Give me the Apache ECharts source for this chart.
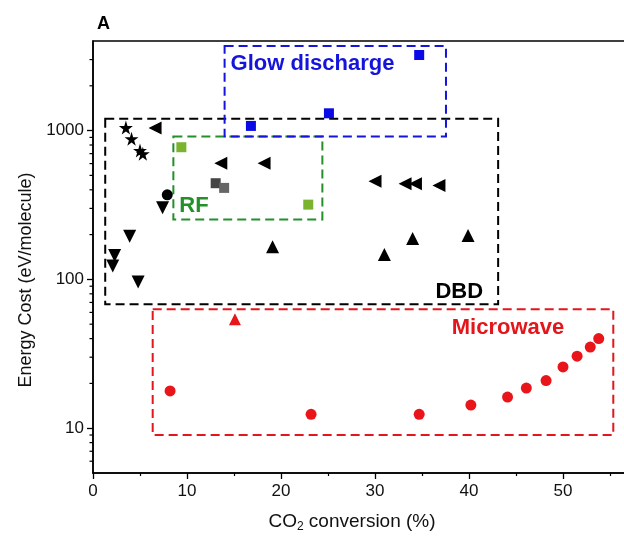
<!DOCTYPE html>
<html>
<head>
<meta charset="utf-8">
<script src="https://cdn.jsdelivr.net/npm/echarts@6/dist/echarts.min.js"></script>
<style>html,body{margin:0;padding:0;background:#fff;}#c{width:624px;height:542px;}</style>
</head>
<body>
<div id="c"></div>
<script>
// ---------- data (x = CO2 conversion %, y = energy cost eV/molecule) ----------
const dbdStars = [[3.5, 1047], [4.1, 880], [5.0, 734], [5.3, 698]];
const dbdLeftTri = [[6.6, 1042], [13.6, 604], [18.2, 604], [30.0, 457], [33.2, 439], [34.3, 439], [36.8, 427]];
const dbdDownTri = [[7.4, 303], [3.9, 195], [2.3, 145], [2.1, 123], [4.8, 96]];
const dbdUpTri = [[19.1, 166], [31.0, 147], [34.0, 188], [39.9, 197]];
const dbdCircle = [[7.9, 370]];
const rfGray = [[13.05, 443], [13.95, 412]];
const rfGreen = [[9.4, 773], [22.9, 318]];
const glowSquares = [[16.8, 1075], [25.1, 1307], [34.7, 3220]];
const mwTriangle = [[15.1, 54]];
const mwCircles = [[8.2, 17.8], [23.2, 12.4], [34.7, 12.4], [40.2, 14.3], [44.1, 16.2], [46.1, 18.6], [48.2, 20.9], [50.0, 25.8], [51.5, 30.5], [52.9, 35.1], [53.8, 40.0]];

// annotation boxes [[x0, yTop], [x1, yBottom]]
const glowBox = [[14.0, 3700], [37.55, 912]];
const dbdBox = [[1.3, 1200], [43.1, 68]];
const rfBox = [[8.55, 912], [24.4, 253]];
const mwBox = [[6.35, 63], [55.35, 9.0]];

const boxLabels = ['Glow discharge', 'DBD', 'RF', 'Microwave'];
const yTickLabels = [10, 100, 1000];
const yMinorTicks = [6, 7, 8, 9, 20, 30, 40, 50, 60, 70, 80, 90, 200, 300, 400, 500, 600, 700, 800, 900, 2000, 3000];
const grayColors = ['#454545', '#666666'];

// ---------- chart ----------
const chart = echarts.init(document.getElementById('c'), null, {renderer: 'canvas'});
const FONT = 'Liberation Sans, Arial, sans-serif';
const star = 'path://M50,0 L61,35 L98,35 L68,57 L79,91 L50,70 L21,91 L32,57 L2,35 L39,35 Z';

function box(coords, color, text, pos, offset) {
  return {
    silent: true,
    itemStyle: {color: 'rgba(0,0,0,0)', borderColor: color, borderWidth: 2, borderType: [9, 5]},
    label: {show: true, position: pos, distance: 0, offset: offset, formatter: text,
      color: color, fontSize: 22, fontWeight: 'bold', fontFamily: FONT},
    data: [[{coord: coords[0]}, {coord: coords[1]}]]
  };
}
function sc(name, data, symbol, size, color, rotate) {
  return {type: 'scatter', name: name, data: data, symbol: symbol, symbolSize: size, symbolRotate: rotate || 0,
    itemStyle: {color: color, opacity: 1}, z: 3};
}

const option = {
  animation: false,
  backgroundColor: '#fff',
  title: {text: 'A', left: 92, top: 10, textStyle: {fontSize: 18, fontWeight: 'bold', color: '#000', fontFamily: FONT}},
  grid: {left: 93, top: 41, width: 564, height: 432, outerBoundsMode: 'none', containLabel: false,
    show: true, borderColor: '#000', borderWidth: 1.5, backgroundColor: 'transparent'},
  xAxis: {
    type: 'value', min: 0, max: 60, interval: 10,
    name: 'CO{sub|2} conversion (%)', nameLocation: 'middle', nameGap: 38,
    nameTextStyle: {fontSize: 19, color: '#111', fontFamily: FONT, padding: [0, 46, 0, 0],
      rich: {sub: {fontSize: 12, verticalAlign: 'bottom', padding: [10, 0, 0, 0], color: '#111', fontFamily: FONT}}},
    axisLine: {show: true, onZero: false, lineStyle: {color: '#000', width: 1.5}},
    axisTick: {show: true, inside: false, length: 6, lineStyle: {color: '#000', width: 1.3}},
    minorTick: {show: true, splitNumber: 2, length: 3, lineStyle: {color: '#000', width: 1.2}},
    splitLine: {show: false},
    axisLabel: {fontSize: 17, color: '#111', fontFamily: FONT, margin: 10, showMaxLabel: false}
  },
  yAxis: {
    type: 'log', logBase: 10, min: 5, max: 4000,
    name: 'Energy Cost (eV/molecule)', nameLocation: 'middle', nameGap: 50,
    nameTextStyle: {fontSize: 18, color: '#111', fontFamily: FONT, padding: [0, 46, 0, 0]},
    axisLine: {show: true, onZero: false, lineStyle: {color: '#000', width: 1.5}},
    axisTick: {show: true, inside: false, length: 6, lineStyle: {color: '#000', width: 1.3}},
    splitLine: {show: false},
    axisLabel: {fontSize: 17, color: '#111', fontFamily: FONT, margin: 9, showMinLabel: false, showMaxLabel: false,
      formatter: v => (yTickLabels.indexOf(Math.round(v)) >= 0 ? String(Math.round(v)) : '')}
  },
  series: [
    {
      type: 'custom', name: 'yMinorTicks', silent: true, clip: false, z: 5,
      data: yMinorTicks.map(v => [0, v]),
      renderItem: function (params, api) {
        const p = api.coord([0, api.value(1)]);
        return {type: 'line', shape: {x1: p[0] - 3.5, y1: p[1], x2: p[0], y2: p[1]}, style: {stroke: '#000', lineWidth: 1.2}};
      }
    },
    Object.assign(sc('DBD stars', dbdStars, star, 14, '#000'), {markArea: box(dbdBox, '#000', boxLabels[1], 'insideBottomRight', [-16, -2])}),
    sc('DBD left', dbdLeftTri, 'triangle', 13, '#000', 90),
    sc('DBD down', dbdDownTri, 'triangle', 13, '#000', 180),
    sc('DBD up', dbdUpTri, 'triangle', 13, '#000'),
    sc('DBD circle', dbdCircle, 'circle', 11, '#000'),
    sc('RF gray', rfGray, 'rect', 10, p => grayColors[p.dataIndex % grayColors.length]),
    Object.assign(sc('RF green', rfGreen, 'rect', 10, '#7ab32e'), {markArea: box(rfBox, '#23902a', boxLabels[2], 'insideBottomLeft', [7, -3])}),
    Object.assign(sc('Glow', glowSquares, 'rect', 10, '#0a0ae8'), {markArea: box(glowBox, '#1414dc', boxLabels[0], 'insideTopLeft', [7, 8])}),
    sc('MW triangle', mwTriangle, 'triangle', 12, '#e8161b'),
    Object.assign(sc('MW circles', mwCircles, 'circle', 11, '#e8161b'), {markArea: box(mwBox, '#e3161b', boxLabels[3], 'insideTopRight', [-50, 9])})
  ]
};
chart.setOption(option);
</script>
</body>
</html>
